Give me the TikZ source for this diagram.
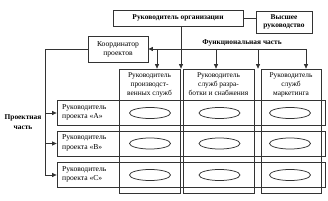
\documentclass[tikz,border=0pt]{standalone}
\usepackage{fontspec}
\setmainfont{Liberation Serif}
\usetikzlibrary{arrows.meta,positioning,shapes.geometric}
\definecolor{inkgray}{HTML}{333333}
\tikzset{
  box/.style={draw=inkgray,line width=.75pt,inner sep=1pt,align=center,fill=none},
  headbox/.style={box,font=\fontsize{7.4}{8.4}\selectfont\bfseries},
  plainbox/.style={box,font=\fontsize{7.6}{9}\selectfont},
  colbox/.style={draw=inkgray,line width=.75pt,minimum height=124pt},
  rowbox/.style={draw=inkgray,line width=.75pt,minimum width=268pt,minimum height=25pt},
  celloval/.style={draw=inkgray,line width=.75pt,ellipse,minimum width=41pt,minimum height=11pt,inner sep=0pt},
  coltext/.style={anchor=north,align=center,inner sep=0pt,font=\fontsize{7.4}{9.2}\selectfont},
  rowtext/.style={anchor=west,align=left,inner sep=0pt,font=\fontsize{7.6}{9.6}\selectfont},
  parttext/.style={align=center,inner sep=0pt,font=\fontsize{7.4}{9.4}\selectfont\bfseries},
  link/.style={draw=inkgray,line width=.75pt},
  arrow/.style={link,-{Triangle[length=4.5pt,width=4pt]}}
}
\begin{document}
\begin{tikzpicture}[x=1pt,y=-1pt]
  \useasboundingbox (0,0) rectangle (328,200);
  % top level
  \node[headbox,minimum width=130pt,minimum height=16pt] (org) at (178,18) {Руководитель организации};
  \node[headbox,minimum width=56pt,minimum height=22pt] (high) at (284,22) {Высшее\\руководство};
  \node[plainbox,minimum width=60pt,minimum height=26pt] (coord) at (118,49) {Координатор\\проектов};

  % functional columns
  \node[colbox,minimum width=61pt] (col1) at (149.5,131) {};
  \node[colbox,minimum width=71pt] (col2) at (218.5,131) {};
  \node[colbox,minimum width=60pt] (col3) at (291,131) {};
  \node[coltext] (head1) at (149.5,72.5) {Руководитель\\производст-\\венных служб};
  \node[coltext] (head2) at (218.5,72.5) {Руководитель\\служб разра-\\ботки и снабжения};
  \node[coltext] (head3) at (291,72.5) {Руководитель\\служб\\маркетинга};

  % project rows
  \node[rowbox] (rowA) at (191,113) {};
  \node[rowbox] (rowB) at (191,143.5) {};
  \node[rowbox] (rowC) at (191,175) {};
  \node[rowtext] (nameA) at (62,112.5) {Руководитель\\проекта «А»};
  \node[rowtext] (nameB) at (62,143) {Руководитель\\проекта «В»};
  \node[rowtext] (nameC) at (62,174.5) {Руководитель\\проекта «С»};

  % cells
  \foreach \r/\y in {A/113,B/143.5,C/175}
    \foreach \c/\x in {1/150,2/219.5,3/290}
      \node[celloval] (cell\r\c) at (\x,\y) {};

  % labels
  \node[parttext] (funclabel) at (242,42.5) {Функциональная часть};
  \node[parttext] (projlabel) at (23,122) {Проектная\\часть};

  % connectors
  \coordinate (bus) at (306,49);
  \coordinate (orgtap) at (181,26);
  \coordinate (pj) at (45,49);
  \coordinate (tap1) at (157,49);
  \coordinate (tap2) at (216,49);
  \coordinate (tap3) at (258,49);
  \draw[link] (org.east) -- (org.east -| high.west);
  \draw[arrow] (orgtap) -- (orgtap |- col1.north);
  \draw[arrow] (bus) -- (coord.east);
  \foreach \t in {tap1,tap2,tap3,bus}
    \draw[arrow] (\t) -- (\t |- col1.north);
  \draw[link] (coord.west) -- (pj) -- (pj |- rowC.west);
  \draw[arrow] (pj |- rowA.west) -- (rowA.west);
  \draw[arrow] (pj |- rowB.west) -- (rowB.west);
  \draw[arrow] (pj |- rowC.west) -- (rowC.west);
\end{tikzpicture}
\end{document}
